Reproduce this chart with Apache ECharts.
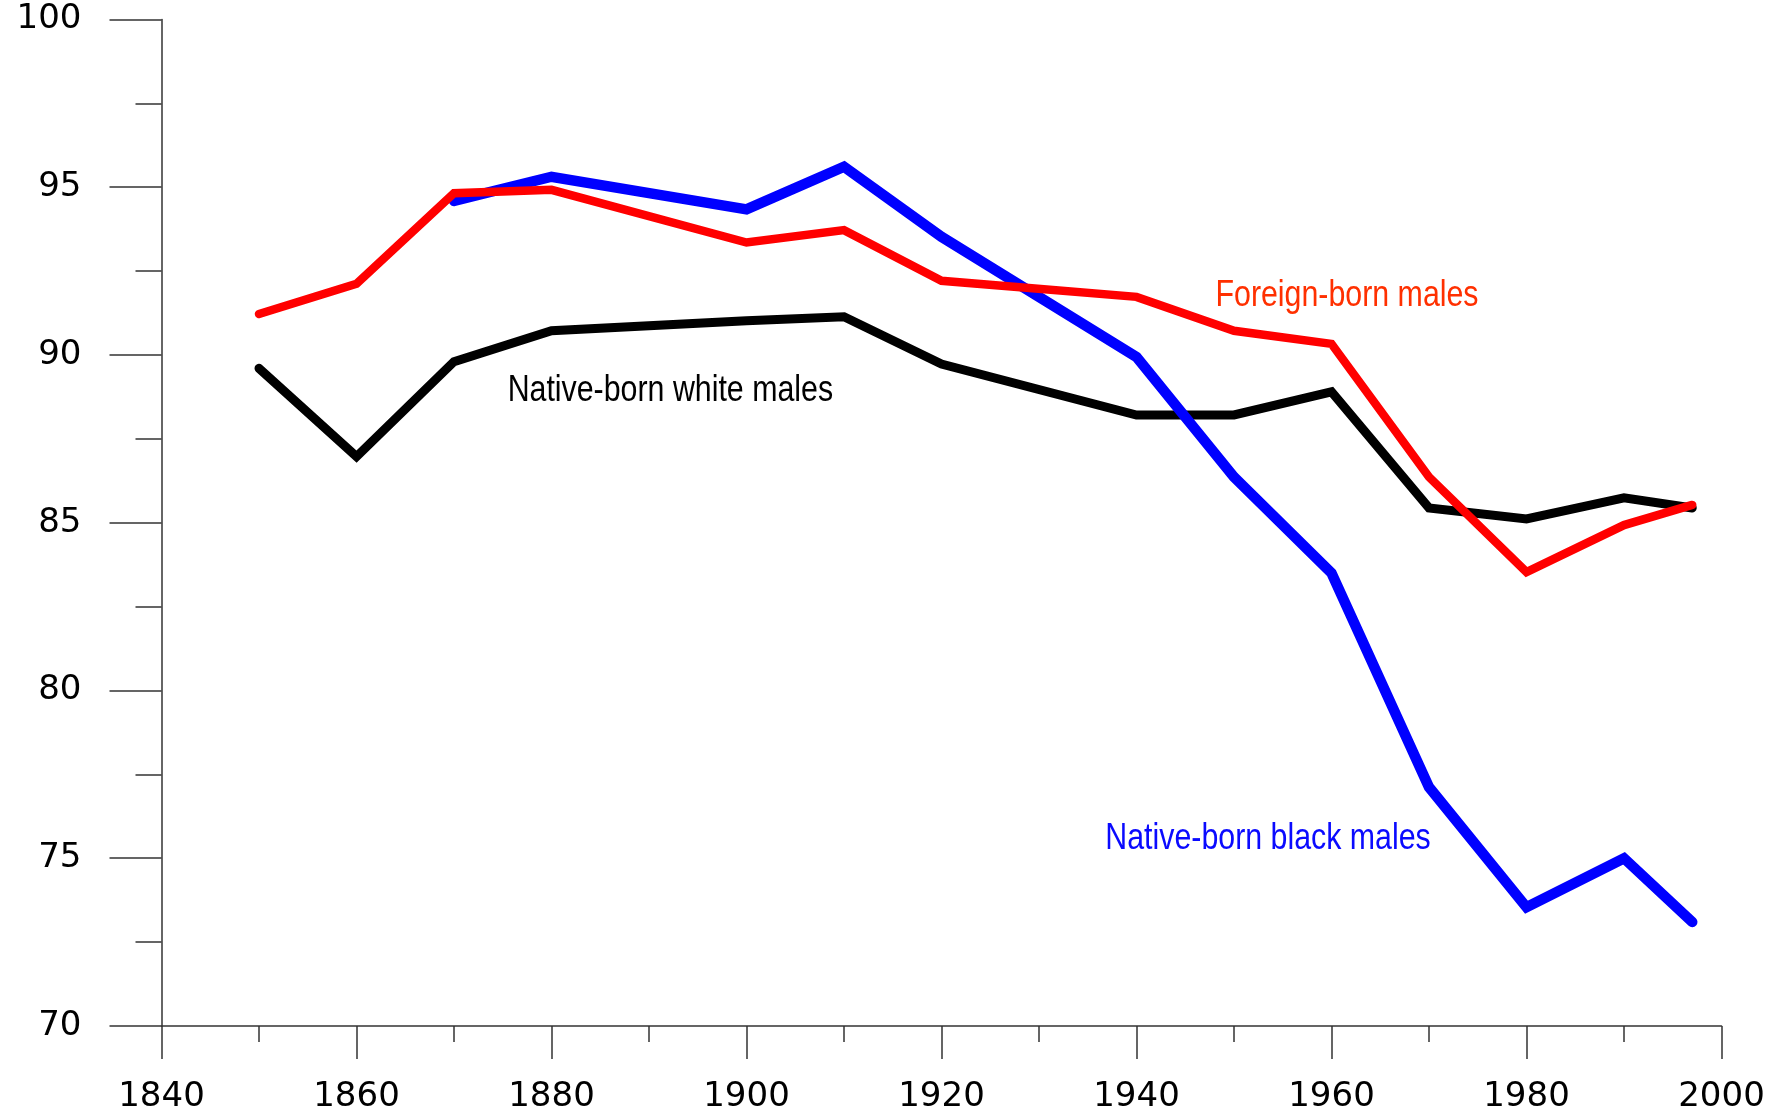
<!DOCTYPE html>
<html>
<head>
<meta charset="utf-8">
<title>Native-born and foreign-born males</title>
<script src="https://cdn.jsdelivr.net/npm/echarts@6/dist/echarts.min.js"></script>
<style>
  html, body { margin: 0; padding: 0; background: #fff; }
  #chart { width: 1790px; height: 1107px; }
</style>
</head>
<body>
<div id="chart"></div>
<script>
// years shared by the white and foreign-born series
const years = [1850, 1860, 1870, 1880, 1900, 1910, 1920, 1940, 1950, 1960, 1970, 1980, 1990, 1997];
const whiteMales = [89.6, 86.97, 89.8, 90.72, 91.02, 91.14, 89.73, 88.21, 88.21, 88.9, 85.44, 85.11, 85.74, 85.44];
const foreignMales = [91.22, 92.12, 94.82, 94.92, 93.35, 93.72, 92.21, 91.73, 90.72, 90.33, 86.36, 83.53, 84.93, 85.53];

// black series starts in 1870
const blackYears = [1870, 1880, 1900, 1910, 1920, 1940, 1950, 1960, 1970, 1980, 1990, 1997];
const blackMales = [94.59, 95.31, 94.34, 95.61, 93.52, 89.94, 86.36, 83.5, 77.12, 73.54, 75.0, 73.1];

// text labels, anchored at [year, value] (left edge, middle of caps)
const labelNames = ['Native-born white males', 'Foreign-born males', 'Native-born black males'];
const labelAnchors = [[1875.5, 88.92], [1948.1, 91.77], [1936.8, 75.57]];
const labelColors = ['#000000', '#ff3000', '#0a0aff'];

const pairs = (xs, ys) => xs.map((x, i) => [x, ys[i]]);

const chart = echarts.init(document.getElementById('chart'));
const axisColor = '#333';
const tickFont = { fontFamily: "'DejaVu Sans', sans-serif", fontSize: 34, color: '#000' };

chart.setOption({
  animation: false,
  grid: { left: 161.5, right: 68.5, top: 19.4, bottom: 81, containLabel: false, outerBoundsMode: 'none' },
  xAxis: {
    type: 'value',
    min: 1840,
    max: 2000,
    interval: 20,
    axisLine: { show: true, lineStyle: { color: axisColor, width: 1.5 } },
    axisTick: { show: true, length: 33, lineStyle: { color: axisColor, width: 1.5 } },
    minorTick: { show: true, splitNumber: 2, length: 16, lineStyle: { color: axisColor, width: 1.5 } },
    splitLine: { show: false },
    axisLabel: { ...tickFont, margin: 54, formatter: v => String(v) }
  },
  yAxis: {
    type: 'value',
    min: 70,
    max: 100,
    interval: 5,
    axisLine: { show: true, lineStyle: { color: axisColor, width: 1.5 } },
    axisTick: { show: true, length: 52, lineStyle: { color: axisColor, width: 1.5 } },
    minorTick: { show: true, splitNumber: 2, length: 26, lineStyle: { color: axisColor, width: 1.5 } },
    splitLine: { show: false },
    axisLabel: { ...tickFont, margin: 80 }
  },
  series: [
    {
      name: 'Native-born white males',
      type: 'line',
      data: pairs(years, whiteMales),
      showSymbol: false,
      lineStyle: { color: '#000', width: 9, cap: 'round', join: 'miter' },
      z: 2
    },
    {
      name: 'Native-born black males',
      type: 'line',
      data: pairs(blackYears, blackMales),
      showSymbol: false,
      lineStyle: { color: '#0000ff', width: 10.5, cap: 'round', join: 'miter' },
      z: 3
    },
    {
      name: 'Foreign-born males',
      type: 'line',
      data: pairs(years, foreignMales),
      showSymbol: false,
      lineStyle: { color: '#ff0000', width: 8.5, cap: 'round', join: 'miter' },
      z: 4
    }
  ]
});

// series names placed next to their lines (Arial metrics squeezed to a narrow face)
chart.setOption({
  graphic: labelNames.map((name, i) => {
    const [px, py] = chart.convertToPixel({ gridIndex: 0 }, labelAnchors[i]);
    return {
      type: 'text',
      x: px,
      y: py,
      scaleX: 0.82,
      z: 10,
      style: {
        text: name,
        fill: labelColors[i],
        font: "37px 'Liberation Sans', Arial, sans-serif",
        align: 'left',
        verticalAlign: 'middle'
      }
    };
  })
});
</script>
</body>
</html>
